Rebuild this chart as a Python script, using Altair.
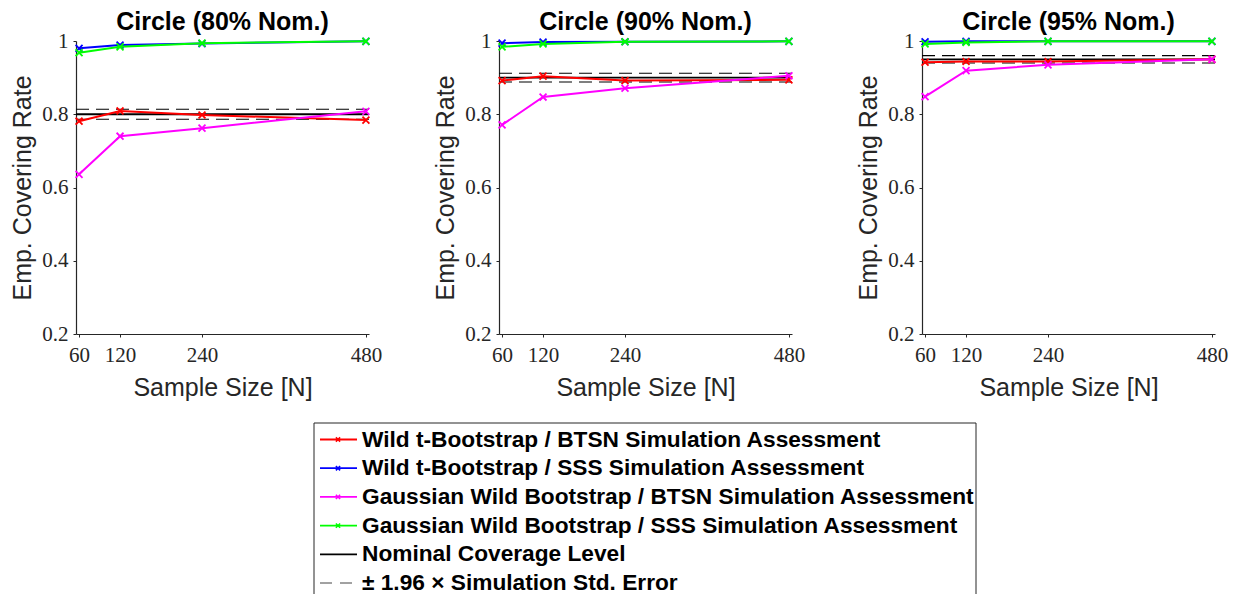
import altair as alt
import pandas as pd

# Sample sizes on the x axis and the nominal coverage of each panel
sample_sizes = [60, 120, 240, 480]
nominal_pct = [80, 90, 95]

# Empirical covering rates, one list per panel (80 %, 90 %, 95 %)
wild_t_btsn = [[0.781, 0.809, 0.798, 0.784],
               [0.892, 0.904, 0.892, 0.894],
               [0.942, 0.944, 0.944, 0.950]]
wild_t_sss = [[0.980, 0.989, 0.993, 0.999],
              [0.994, 0.997, 0.998, 0.999],
              [0.998, 0.999, 0.999, 0.999]]
gauss_btsn = [[0.636, 0.740, 0.762, 0.808],
              [0.771, 0.847, 0.871, 0.905],
              [0.848, 0.919, 0.935, 0.950]]
gauss_sss = [[0.968, 0.984, 0.994, 0.999],
             [0.984, 0.992, 0.998, 0.999],
             [0.992, 0.996, 0.999, 0.999]]

# Nominal level and the +/- 1.96 x simulation standard error band
nominal_level = [0.80, 0.90, 0.95]
upper_bound = [0.8135, 0.912, 0.960]
lower_bound = [0.7865, 0.888, 0.940]

series_names = [
    "Wild t-Bootstrap / BTSN Simulation Assessment",
    "Wild t-Bootstrap / SSS Simulation Assessment",
    "Gaussian Wild Bootstrap / BTSN Simulation Assessment",
    "Gaussian Wild Bootstrap / SSS Simulation Assessment",
]
series_colors = ["#ff0000", "#0000ff", "#ff00ff", "#00ff00"]
series_values = [wild_t_btsn, wild_t_sss, gauss_btsn, gauss_sss]
legend_extra = ["Nominal Coverage Level", "\u00b1 1.96 \u00d7 Simulation Std. Error"]

X_MARK = "M-1,-1L1,1M-1,1L1,-1"
PW, PH = 293, 293
AXIS_COLOR = "#262626"

x_scale = alt.Scale(domain=[55.5, 484.5], nice=False, zero=False)
y_scale = alt.Scale(domain=[0.2, 1.0], nice=False, zero=False)

x_axis = alt.Axis(values=sample_sizes, title="Sample Size [N]", labelFlush=False,
                  labelOverlap=False, labelPadding=7, titlePadding=10)
y_axis = alt.Axis(values=[0.2, 0.4, 0.6, 0.8, 1.0], title="Emp. Covering Rate",
                  labelExpr="datum.value == 1 ? '1' : format(datum.value, '.1f')",
                  labelFlush=False, labelOverlap=False, labelPadding=5, titlePadding=6)

# Legend box placement, in pixels relative to the middle panel's plot area
LEG_X0, LEG_X1, LEG_Y0, LEG_Y1 = -185, 477, 382, 554
LEG_ROW0, LEG_STEP = 398.5, 28.7


def legend_layers():
    out = []
    one = pd.DataFrame({"a": [0]})
    frame = alt.Chart(one).mark_rule(color=AXIS_COLOR, strokeWidth=1)
    out.append(frame.encode(x=alt.value(LEG_X0), x2=alt.value(LEG_X1),
                            y=alt.value(LEG_Y0), y2=alt.value(LEG_Y0)))
    out.append(frame.encode(x=alt.value(LEG_X0), x2=alt.value(LEG_X0),
                            y=alt.value(LEG_Y0), y2=alt.value(LEG_Y1)))
    out.append(frame.encode(x=alt.value(LEG_X1), x2=alt.value(LEG_X1),
                            y=alt.value(LEG_Y0), y2=alt.value(LEG_Y1)))
    labels = series_names + legend_extra
    colors = series_colors + ["black", "#444444"]
    for r, (lab, col) in enumerate(zip(labels, colors)):
        yy = LEG_ROW0 + r * LEG_STEP
        row = pd.DataFrame({"label": [lab]})
        if r < 5:
            out.append(alt.Chart(row).mark_rule(color=col, strokeWidth=1.8).encode(
                x=alt.value(LEG_X0 + 6), x2=alt.value(LEG_X0 + 43),
                y=alt.value(yy), y2=alt.value(yy)))
        else:
            out.append(alt.Chart(row).mark_rule(color=col, strokeWidth=1,
                                                strokeDash=[12, 8]).encode(
                x=alt.value(LEG_X0 + 6), x2=alt.value(LEG_X0 + 38),
                y=alt.value(yy), y2=alt.value(yy)))
        if r < 4:
            out.append(alt.Chart(row).mark_point(shape=X_MARK, size=18, filled=False,
                                                 color=col, strokeWidth=1.6,
                                                 opacity=1).encode(
                x=alt.value(LEG_X0 + 24), y=alt.value(yy)))
        out.append(alt.Chart(row).mark_text(
            align="left", baseline="middle", font="Liberation Sans", fontWeight="bold",
            fontSize=22.7, color="black").encode(
            x=alt.value(LEG_X0 + 48), y=alt.value(yy), text="label:N"))
    return out


def panel(i):
    layers = []
    nominal = pd.DataFrame({"v": [nominal_level[i]]})
    band = pd.DataFrame({"v": [upper_bound[i], lower_bound[i]]})
    layers.append(alt.Chart(nominal).mark_rule(color="black", strokeWidth=1.8)
                  .encode(y=alt.Y("v:Q", scale=y_scale, axis=y_axis)))
    layers.append(alt.Chart(band).mark_rule(color="black", strokeWidth=1.1, strokeDash=[13, 7])
                  .encode(y=alt.Y("v:Q", scale=y_scale, axis=y_axis)))
    for vals, col in zip(series_values, series_colors):
        df = pd.DataFrame({"N": sample_sizes, "rate": vals[i]})
        base = alt.Chart(df).encode(
            x=alt.X("N:Q", scale=x_scale, axis=x_axis),
            y=alt.Y("rate:Q", scale=y_scale, axis=y_axis),
        )
        layers.append(base.mark_line(color=col, strokeWidth=2))
        layers.append(base.mark_point(shape=X_MARK, size=48, color=col, filled=False,
                                      strokeWidth=1.8, opacity=1))
    if i == 1:
        layers += legend_layers()
    return alt.layer(*layers).properties(
        width=PW, height=PH,
        title=alt.Title(f"Circle ({nominal_pct[i]}% Nom.)"),
    )


chart = alt.hconcat(*[panel(i) for i in range(3)], spacing=130, bounds="flush").properties(
    padding={"left": 10, "top": 10, "right": 2, "bottom": 0}
).configure_view(stroke=None).configure_axis(
    grid=False, domainColor=AXIS_COLOR, domainWidth=1.2, tickColor=AXIS_COLOR, tickSize=3,
    labelFont="Liberation Serif", labelFontSize=21, labelColor=AXIS_COLOR,
    titleFont="Liberation Sans", titleFontSize=25, titleFontWeight="normal",
    titleColor=AXIS_COLOR,
).configure_title(
    font="Liberation Sans", fontSize=25, fontWeight="bold", color="black",
    frame="group", anchor="middle", baseline="alphabetic", offset=-5,
)

chart.save("out.html", embed_options={"renderer": "svg", "actions": False})
